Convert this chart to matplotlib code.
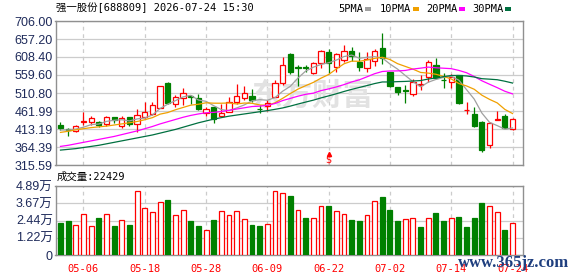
import numpy as np
import matplotlib
matplotlib.use("Agg")
import matplotlib.pyplot as plt
from matplotlib.patches import Rectangle
from matplotlib.transforms import blended_transform_factory

plt.rcParams['font.family'] = ['Liberation Sans', 'Noto Sans CJK SC']

# --------------------------
# Data
# --------------------------
dates = ['04-28', '04-29', '04-30', '05-06', '05-07', '05-08', '05-11', '05-12', '05-13', '05-14',
         '05-15', '05-18', '05-19', '05-20', '05-21', '05-22', '05-25', '05-26', '05-27', '05-28',
         '05-29', '06-01', '06-02', '06-03', '06-04', '06-05', '06-08', '06-09', '06-10', '06-11',
         '06-12', '06-15', '06-16', '06-17', '06-18', '06-22', '06-23', '06-24', '06-25', '06-26',
         '06-29', '06-30', '07-01', '07-02', '07-03', '07-06', '07-07', '07-08', '07-09', '07-10',
         '07-13', '07-14', '07-15', '07-16', '07-17', '07-20', '07-21', '07-22', '07-23', '07-24']

opens = [424.0, 413.0, 408.0, 431.3, 433.1, 432.2, 425.9, 444.8, 421.3, 444.8,
         425.9, 446.6, 453.0, 471.0, 538.8, 480.1, 496.3, 501.7, 496.3, 455.7,
         472.0, 448.4, 458.4, 485.5, 498.1, 503.6, 467.5, 475.6, 500.9, 537.0,
         616.5, 580.5, 580.0, 564.1, 591.2, 621.1, 580.4, 599.4, 624.7, 595.7,
         577.7, 597.6, 631.9, 568.6, 527.1, 519.0, 507.5, 533.0, 555.1, 586.7,
         546.0, 539.7, 559.6, 464.7, 453.5, 431.3, 369.0, 438.4, 449.3, 412.3]
highs = [431.3, 415.0, 423.0, 458.4, 448.5, 434.9, 449.3, 446.6, 448.5, 446.6,
         466.5, 485.5, 485.5, 529.8, 541.5, 505.4, 525.3, 505.4, 507.2, 473.8,
         472.0, 481.0, 500.9, 534.3, 529.8, 521.7, 478.3, 491.8, 546.0, 607.5,
         618.0, 586.7, 588.0, 595.7, 627.4, 630.1, 618.3, 641.0, 636.4, 622.9,
         622.9, 630.1, 672.6, 568.6, 527.1, 532.5, 548.0, 559.6, 600.3, 606.6,
         565.0, 562.0, 559.6, 485.5, 472.0, 435.0, 431.0, 461.0, 453.0, 442.1]
lows = [410.5, 394.0, 406.0, 424.0, 424.0, 418.6, 422.3, 430.4, 416.8, 422.3,
        404.2, 444.0, 451.2, 469.2, 480.1, 473.8, 478.3, 480.0, 464.7, 449.3,
        430.4, 448.4, 458.4, 480.1, 491.8, 487.3, 457.5, 462.0, 500.9, 532.5,
        563.0, 530.7, 568.6, 561.4, 577.7, 564.1, 568.6, 595.7, 598.5, 570.5,
        566.8, 584.9, 590.0, 528.0, 505.0, 485.0, 503.6, 520.0, 540.0, 548.8,
        525.3, 524.0, 481.0, 453.0, 419.0, 350.0, 360.8, 438.0, 415.0, 410.5]
closes = [416.8, 410.5, 421.3, 434.9, 442.1, 424.0, 446.6, 436.7, 442.1, 425.9,
          451.2, 458.4, 478.3, 529.8, 484.6, 499.0, 509.9, 499.0, 466.5, 466.5,
          439.4, 457.5, 485.5, 502.7, 509.9, 491.8, 466.5, 484.6, 538.8, 586.7,
          568.6, 579.0, 578.0, 591.2, 624.7, 591.2, 615.6, 624.7, 612.0, 582.2,
          603.0, 624.7, 606.6, 530.7, 512.6, 517.0, 541.5, 535.0, 594.0, 550.6,
          545.0, 555.1, 482.8, 465.6, 422.3, 356.3, 428.6, 439.4, 416.8, 439.4]

ma5 = [410.5, 410.5, 413.0, 418.0, 425.1, 426.6, 433.8, 436.9, 438.3, 435.1,
       440.5, 442.9, 451.2, 468.7, 480.5, 490.0, 500.3, 504.5, 491.8, 488.2,
       476.3, 465.8, 463.1, 470.3, 478.6, 489.5, 492.9, 491.1, 498.3, 515.7,
       529.0, 551.5, 570.2, 580.7, 588.3, 592.8, 600.1, 609.5, 613.6, 605.1,
       607.5, 609.3, 605.7, 589.4, 575.5, 558.3, 541.7, 527.4, 540.0, 547.6,
       553.2, 556.0, 545.5, 519.8, 494.2, 456.4, 431.1, 422.4, 412.7, 416.1]
ma10 = [404.0, 407.0, 411.0, 414.0, 417.0, 419.0, 421.0, 424.0, 427.0, 430.1,
        433.5, 438.3, 444.0, 453.5, 457.8, 465.3, 471.6, 477.8, 480.3, 484.3,
        483.2, 483.1, 483.8, 481.1, 483.6, 482.9, 478.5, 477.1, 484.3, 496.4,
        509.3, 521.4, 530.7, 539.5, 551.0, 560.9, 575.9, 589.9, 597.2, 596.7,
        600.2, 604.7, 607.6, 601.6, 590.3, 582.9, 575.5, 566.5, 564.7, 561.6,
        555.8, 548.8, 536.4, 529.9, 520.9, 504.8, 493.5, 484.0, 466.3, 455.1]
ma20 = [366.0, 369.0, 373.0, 377.0, 381.0, 385.0, 389.0, 393.0, 398.0, 403.0,
        408.0, 414.0, 420.0, 427.0, 433.0, 439.0, 445.0, 450.0, 454.0, 457.2,
        458.3, 460.7, 463.9, 467.3, 470.7, 474.1, 475.1, 477.5, 482.3, 490.3,
        496.2, 502.2, 507.2, 510.3, 517.3, 521.9, 527.2, 533.5, 540.8, 546.5,
        554.7, 563.1, 569.1, 570.5, 570.7, 571.9, 575.7, 578.2, 581.0, 579.2,
        578.0, 576.8, 572.0, 565.7, 555.6, 543.9, 534.5, 525.3, 515.5, 508.4]
ma30 = [356.0, 358.0, 360.0, 363.0, 366.0, 369.0, 373.0, 377.0, 381.0, 385.0,
        389.0, 393.0, 397.0, 402.0, 407.0, 412.0, 418.0, 424.0, 430.0, 435.0,
        440.0, 444.0, 448.0, 451.0, 454.0, 457.0, 460.0, 463.0, 466.5, 470.3,
        475.3, 480.9, 486.2, 491.4, 497.5, 503.0, 508.7, 514.9, 520.6, 525.8,
        530.9, 536.4, 540.7, 540.7, 541.6, 542.2, 543.3, 544.5, 548.7, 551.5,
        555.1, 558.3, 558.2, 557.0, 554.1, 549.6, 548.3, 546.8, 542.7, 537.8]

# volume in 万 (10k)
volume = [2.27, 2.41, 2.13, 2.88, 2.06, 2.62, 2.88, 2.08, 2.48, 2.13,
          4.54, 3.33, 3.05, 3.73, 3.90, 2.83, 3.17, 2.41, 2.06, 1.75,
          2.48, 3.09, 2.81, 3.09, 2.53, 2.13, 2.06, 2.17, 4.51, 4.37,
          4.18, 3.17, 2.62, 2.62, 3.45, 3.47, 3.09, 2.88, 2.48, 2.41,
          2.81, 3.80, 4.11, 3.19, 2.41, 2.55, 2.62, 1.98, 2.62, 2.98,
          2.41, 2.62, 2.69, 1.98, 2.62, 3.69, 3.45, 3.02, 1.77, 2.24]
vol_dir = ('g g r r r g r g r g  r r r r g r r g g r  g r r r r g g r r r  '
           'g r g r r g r r g g  r r g g g r r g r g  g r g g g g r r g r').split()

price_labels = ['315.59', '364.39', '413.19', '461.99', '510.80', '559.60', '608.40', '657.20', '706.00']
price_min, price_max = 315.59, 706.00
vol_labels = ['0', '1.22万', '2.44万', '3.67万', '4.89万']
vol_max = 4.89
tick_dates = ['05-06', '05-18', '05-28', '06-09', '06-22', '07-02', '07-14', '07-24']
last_volume = 22429
title = '强一股份[688809] 2026-07-24 15:30'

# --------------------------
# Figure layout (pixel based)
# --------------------------
W, H = 578, 276
RED, GREEN = '#ff0000', '#008000'
GRID = '#cccccc'
LABEL = '#1e2a5a'
MONO = ['DejaVu Sans Mono', 'Noto Sans CJK SC']

fig = plt.figure(figsize=(W / 100, H / 100), dpi=100)


def box(l, t, r, b):
    return [l / W, 1 - b / H, (r - l) / W, (b - t) / H]


ax = fig.add_axes(box(55.5, 21, 522.5, 165))
axv = fig.add_axes(box(55.5, 186, 522.5, 255))

n = len(closes)
x = np.arange(n)
tick_idx = [dates.index(d) for d in tick_dates]
w = 0.68

for a in (ax, axv):
    a.set_xlim(-0.65, 60.3)
    for s in a.spines.values():
        s.set_color('#909090')
        s.set_linewidth(1.0)
    a.set_xticks(tick_idx)
    a.xaxis.grid(True, linestyle=(0, (3, 3)), color=GRID, lw=0.9)
    a.yaxis.grid(True, color=GRID, lw=0.9)
    a.set_axisbelow(True)
    a.tick_params(length=0, labelsize=9, labelcolor=LABEL, pad=2)

# --------------------------
# Price panel
# --------------------------
ax.set_ylim(price_min, price_max)
ax.set_yticks(np.linspace(price_min, price_max, len(price_labels)))
ax.set_yticklabels(price_labels)
ax.set_xticklabels([])

for i in range(n):
    o, c = opens[i], closes[i]
    up = c >= o
    col = RED if up else GREEN
    ax.vlines(i, lows[i], highs[i], color=col, lw=0.9, zorder=2)
    ax.add_patch(Rectangle((i - w / 2, min(o, c)), w, max(abs(c - o), 0.8),
                           facecolor='white' if up else col, edgecolor=col, lw=0.9, zorder=3))

ax.plot(x, ma5, color='#a0a0a0', lw=0.9, zorder=4)
ax.plot(x, ma10, color='#f0a000', lw=0.9, zorder=4)
ax.plot(x, ma20, color='#ff00ff', lw=0.9, zorder=4)
ax.plot(x, ma30, color='#007040', lw=0.9, zorder=4)

# "S" marker at 06-22
tr = blended_transform_factory(ax.transData, ax.transAxes)
s_idx = dates.index('06-22')
ax.plot(s_idx, 0.078, marker='^', ms=3, color=RED, transform=tr, clip_on=False, zorder=5)
ax.text(s_idx, 0.0, '$', color=RED, fontsize=7, ha='center', va='bottom',
        family='DejaVu Sans', transform=tr, zorder=5)

# watermark
ax.text(312 / W, 1 - 96 / H, '东方财富', transform=fig.transFigure, fontsize=22,
        fontweight='bold', color='#e2e2e2', ha='center', va='center',
        family='Noto Sans CJK SC', zorder=1)

# --------------------------
# Volume panel
# --------------------------
axv.set_ylim(0, vol_max)
axv.set_yticks(np.linspace(0, vol_max, len(vol_labels)))
axv.set_yticklabels(vol_labels)
axv.set_xticklabels(tick_dates, color=RED, family=MONO, fontsize=7.5)
axv.tick_params(axis='x', pad=6.5, labelcolor=RED)

face = ['white' if d == 'r' else GREEN for d in vol_dir]
edge = [RED if d == 'r' else GREEN for d in vol_dir]
axv.bar(x, volume, width=0.64, color=face, edgecolor=edge, lw=0.9, zorder=3)

# --------------------------
# Texts
# --------------------------
fig.text(56 / W, 1 - 8 / H, title, family=MONO, fontsize=7.5, va='center', ha='left')
fig.text(57 / W, 1 - 177 / H, '成交量:%d' % last_volume, family=MONO, fontsize=7.5,
         va='center', ha='left')

legend_items = [('5PMA', '#a0a0a0', 338, 365), ('10PMA', '#f0a000', 380, 413),
                ('20PMA', '#ff00ff', 426, 459), ('30PMA', '#007040', 472, 505)]
for label, col, tx, sx in legend_items:
    fig.text(tx / W, 1 - 8.5 / H, label, family=MONO, fontsize=7.5, va='center', ha='left')
    fig.patches.append(Rectangle((sx / W, 1 - 11 / H), 6 / W, 4 / H, facecolor=col,
                                 edgecolor='none', transform=fig.transFigure, figure=fig))

fig.text(514 / W, 1 - 263 / H, 'www.365jz.com', family='Liberation Serif', fontweight='bold',
         fontsize=12, color='#1f3f7f', ha='center', va='center', zorder=10)

fig.savefig('out.png', dpi=100)
